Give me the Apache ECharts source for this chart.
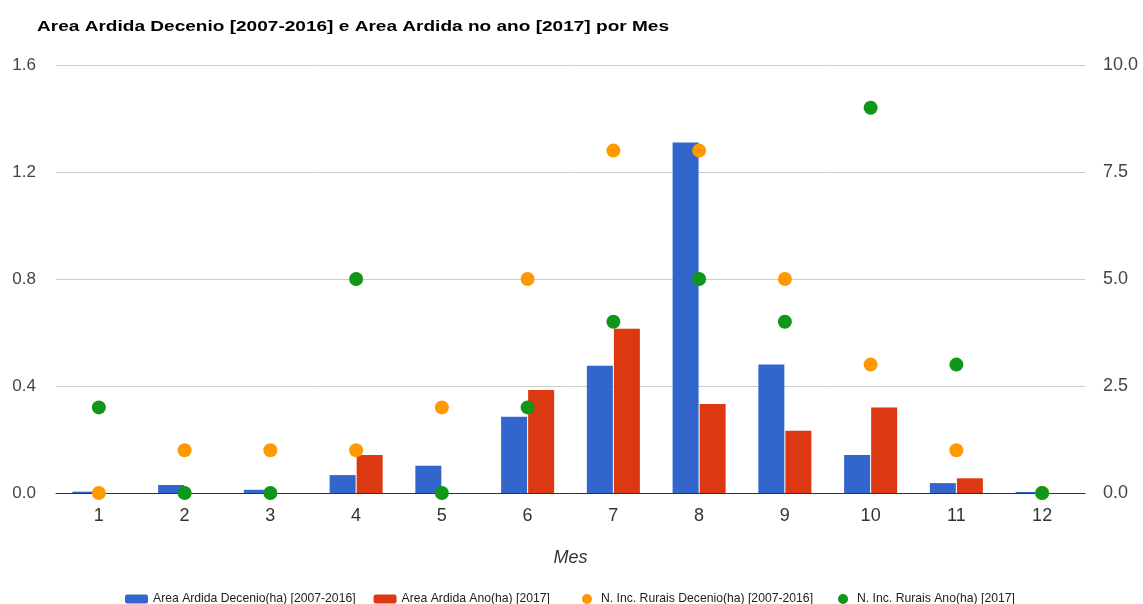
<!DOCTYPE html>
<html>
<head>
<meta charset="utf-8">
<script src="https://cdn.jsdelivr.net/npm/echarts@6/dist/echarts.min.js"></script>
<style>
  html, body { margin: 0; padding: 0; background: #fff; }
  #chart { width: 1143px; height: 604px; }
</style>
</head>
<body>
<div id="chart"></div>
<script>
// Monthly burnt area (ha) and number of rural fires
const months = ['1', '2', '3', '4', '5', '6', '7', '8', '9', '10', '11', '12'];
const areaDecenio = [0.005, 0.03, 0.012, 0.067, 0.102, 0.285, 0.476, 1.31, 0.48, 0.142, 0.037, 0.004];
const areaAno = [0, 0, 0, 0.142, 0, 0.385, 0.614, 0.333, 0.233, 0.32, 0.055, 0];
const incDecenio = [0, 1, 1, 1, 2, 5, 8, 8, 5, 3, 1, 0];
const incAno = [2, 0, 0, 5, 0, 2, 4, 5, 4, 9, 3, 0];

const leftTicks = { min: 0, max: 1.6, interval: 0.4 };
const rightTicks = { min: 0, max: 10, interval: 2.5 };

const titleText = 'Area Ardida Decenio [2007-2016] e Area Ardida no ano [2017] por Mes';
const names = {
  areaDecenio: 'Area Ardida Decenio(ha) [2007-2016]',
  areaAno: 'Area Ardida Ano(ha) [2017]',
  incDecenio: 'N. Inc. Rurais Decenio(ha) [2007-2016]',
  incAno: 'N. Inc. Rurais Ano(ha) [2017]'
};

const FONT = 'Liberation Sans, Arial, sans-serif';
const chart = echarts.init(document.getElementById('chart'));

const legendText = { fontFamily: FONT, fontSize: 12.2, color: '#222' };

chart.setOption({
  animation: false,
  // Wide bold heading, drawn as a stretched text element
  graphic: [{
    type: 'text',
    x: 37, y: 27,
    originX: 0, originY: 0,
    scaleX: 1.27,
    style: {
      text: titleText,
      font: 'bold 15px ' + FONT,
      fill: '#000',
      verticalAlign: 'middle',
      align: 'left'
    }
  }],
  legend: [
    {
      data: [names.areaDecenio, names.areaAno],
      left: 125, top: 593, padding: 0,
      itemWidth: 23, itemHeight: 9, itemGap: 18,
      textStyle: legendText
    },
    {
      data: [
        { name: names.incDecenio, icon: 'circle' },
        { name: names.incAno, icon: 'circle' }
      ],
      left: 582, top: 593, padding: 0,
      itemWidth: 10, itemHeight: 10, itemGap: 25,
      textStyle: Object.assign({ padding: [0, 0, 0, 4] }, legendText)
    }
  ],
  grid: { left: 56, right: 58, top: 65, bottom: 111, containLabel: false },
  xAxis: {
    type: 'category',
    data: months,
    name: 'Mes',
    nameLocation: 'middle',
    nameGap: 56,
    nameTextStyle: { fontFamily: FONT, fontSize: 18, fontStyle: 'italic', color: '#333' },
    axisLine: { lineStyle: { color: '#333', width: 1 } },
    axisTick: { show: false },
    axisLabel: { margin: 14, color: '#333', fontSize: 18, fontFamily: FONT }
  },
  yAxis: [
    {
      type: 'value',
      min: leftTicks.min, max: leftTicks.max, interval: leftTicks.interval,
      axisLine: { show: false },
      axisTick: { show: false },
      axisLabel: { margin: 20, formatter: v => v.toFixed(1), color: '#444', fontSize: 17, fontFamily: FONT },
      splitLine: { lineStyle: { color: '#cccccc', width: 1 } }
    },
    {
      type: 'value',
      min: rightTicks.min, max: rightTicks.max, interval: rightTicks.interval,
      axisLine: { show: false },
      axisTick: { show: false },
      axisLabel: { margin: 18, formatter: v => v.toFixed(1), color: '#444', fontSize: 18, fontFamily: FONT },
      splitLine: { show: false }
    }
  ],
  series: [
    {
      name: names.areaDecenio, type: 'bar', yAxisIndex: 0,
      data: areaDecenio, barWidth: 26, barGap: '4%',
      itemStyle: { color: '#3366cc' }
    },
    {
      name: names.areaAno, type: 'bar', yAxisIndex: 0,
      data: areaAno, barWidth: 26, barGap: '4%',
      itemStyle: { color: '#dc3912' }
    },
    {
      name: names.incDecenio, type: 'scatter', yAxisIndex: 1,
      data: incDecenio, symbolSize: 14, z: 5,
      itemStyle: { color: '#ff9900', opacity: 1 }
    },
    {
      name: names.incAno, type: 'scatter', yAxisIndex: 1,
      data: incAno, symbolSize: 14, z: 6,
      itemStyle: { color: '#109618', opacity: 1 }
    }
  ]
});
</script>
</body>
</html>
